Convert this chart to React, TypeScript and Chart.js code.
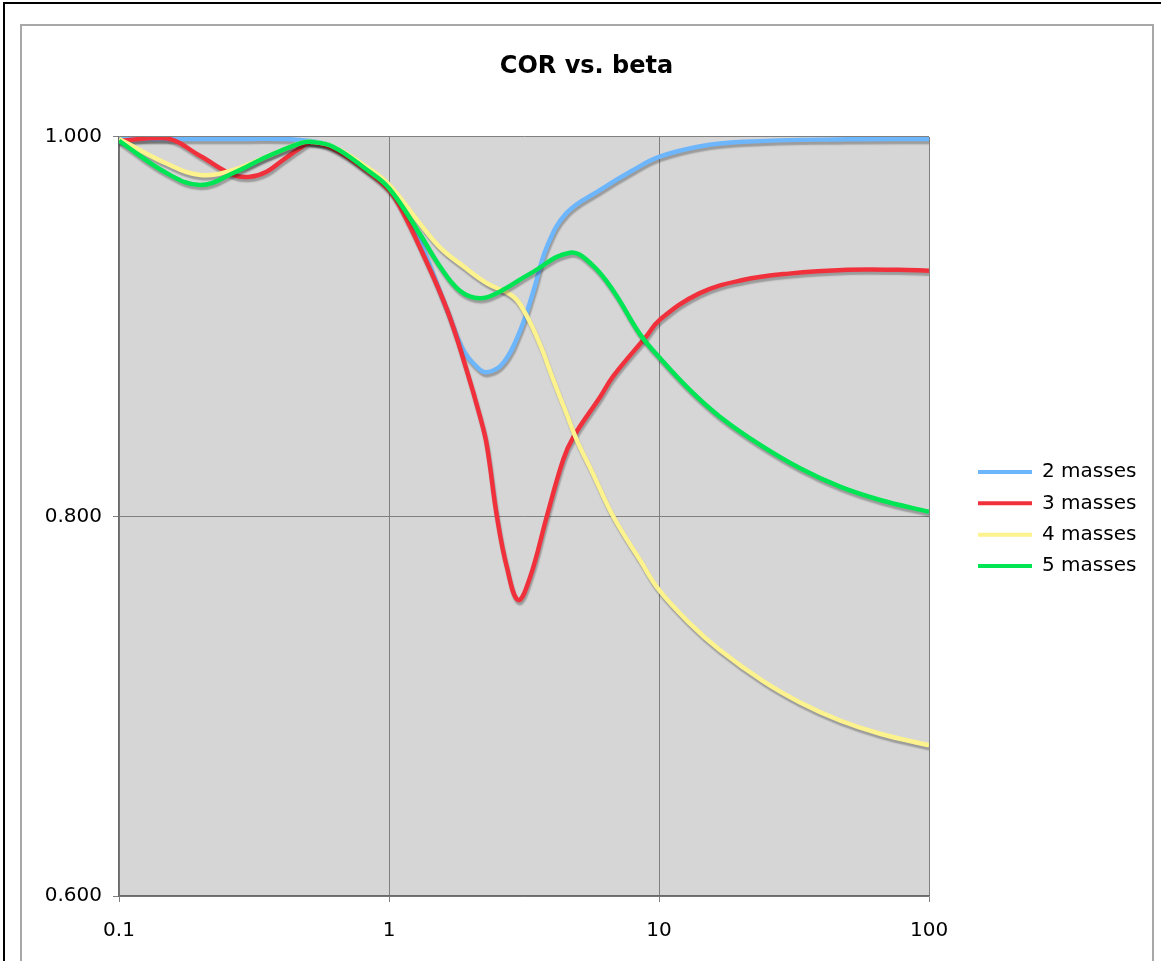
import React, { useEffect, useRef } from 'react';
import { Chart, registerables } from 'chart.js';

Chart.register(...registerables);

// ---------- data ----------
const seriesNames = ['2 masses', '3 masses', '4 masses', '5 masses'];
const seriesColors = ['#6db6fb', '#f0313c', '#fcf28e', '#00e553'];

const xTickValues = [0.1, 1, 10, 100];
const xTickLabels = ['0.1', '1', '10', '100'];
const yTickValues = [0.6, 0.8, 1.0];
const yTickLabels = ['0.600', '0.800', '1.000'];

const blueX = [0.1, 0.2, 0.3, 0.4, 0.5, 0.62, 0.83, 1.0, 1.23, 1.64, 1.88, 2.11, 2.3, 2.65, 3.06, 3.43, 3.84, 4.55, 6.04, 8.03, 10, 14.1, 20.4, 50, 100];
const blueY = [0.999, 0.999, 0.999, 0.999, 0.998, 0.995, 0.983, 0.974, 0.953, 0.909, 0.888, 0.879, 0.876, 0.881, 0.898, 0.919, 0.942, 0.96, 0.972, 0.9826, 0.9895, 0.995, 0.9975, 0.9988, 0.999];

const redX = [0.1, 0.15, 0.2, 0.265, 0.306, 0.352, 0.406, 0.467, 0.51, 0.62, 0.83, 1.0, 1.1, 1.3, 1.64, 1.94, 2.17, 2.3, 2.51, 2.73, 3.01, 3.33, 3.84, 4.42, 4.82, 6.05, 6.77, 8.98, 10.05, 14.1, 20.4, 30.2, 50.2, 77, 100];
const redY = [0.998, 0.9993, 0.99, 0.98, 0.979, 0.9817, 0.988, 0.994, 0.997, 0.994, 0.982, 0.972, 0.963, 0.942, 0.909, 0.877, 0.853, 0.838, 0.8, 0.7735, 0.756, 0.768, 0.8, 0.83, 0.842, 0.863, 0.874, 0.895, 0.9036, 0.9176, 0.9246, 0.928, 0.93, 0.93, 0.9295];

const yellowX = [0.1, 0.15, 0.2, 0.265, 0.352, 0.467, 0.51, 0.62, 0.83, 1.0, 1.3, 1.54, 1.88, 2.3, 2.88, 3.2, 3.63, 4.06, 4.55, 4.97, 5.7, 6.77, 8.51, 10, 13, 16.8, 24.3, 33.3, 46.8, 65.9, 100];
const yellowY = [0.999, 0.986, 0.98, 0.9826, 0.9896, 0.9967, 0.9975, 0.995, 0.984, 0.975, 0.9545, 0.942, 0.932, 0.923, 0.916, 0.907, 0.8904, 0.872, 0.854, 0.84, 0.8224, 0.8, 0.777, 0.7613, 0.7437, 0.7296, 0.7132, 0.702, 0.6925, 0.6855, 0.6794];

const greenX = [0.1, 0.15, 0.2, 0.265, 0.352, 0.467, 0.51, 0.62, 0.83, 1.0, 1.3, 1.54, 1.83, 2.17, 2.57, 3.33, 4.68, 5.62, 6.77, 8.46, 10, 13, 16.8, 23.7, 33.3, 46.8, 65.9, 100];
const greenY = [0.998, 0.981, 0.9747, 0.981, 0.9896, 0.9967, 0.9975, 0.9949, 0.9826, 0.973, 0.949, 0.932, 0.919, 0.915, 0.9185, 0.928, 0.939, 0.933, 0.919, 0.8965, 0.884, 0.8667, 0.8526, 0.8377, 0.8254, 0.8157, 0.8087, 0.8025];

const seriesX = [blueX, redX, yellowX, greenX];
const seriesY = [blueY, redY, yellowY, greenY];

const FONT = "'DejaVu Sans', Verdana, sans-serif";

const plotBgPlugin = {
  id: 'plotBg',
  beforeDraw(chart: any) {
    const { ctx, chartArea } = chart;
    if (!chartArea) return;
    ctx.save();
    ctx.fillStyle = '#d6d6d6';
    ctx.fillRect(chartArea.left, chartArea.top, chartArea.right - chartArea.left, chartArea.bottom - chartArea.top);
    ctx.restore();
  },
};

const shadowPlugin = {
  id: 'lineShadow',
  beforeDatasetDraw(chart: any) {
    const ctx = chart.ctx;
    ctx.save();
    ctx.shadowColor = 'rgba(0,0,0,0.28)';
    ctx.shadowOffsetX = 1;
    ctx.shadowOffsetY = 3;
    ctx.shadowBlur = 1.5;
  },
  afterDatasetDraw(chart: any) {
    chart.ctx.restore();
  },
};

export default function App() {
  const ref = useRef<HTMLCanvasElement>(null);

  useEffect(() => {
    if (!ref.current) return;
    Chart.defaults.font.family = FONT;
    Chart.defaults.color = '#000';

    const datasets = seriesNames.map((name, i) => ({
      label: name,
      data: seriesX[i].map((x, j) => ({ x, y: seriesY[i][j] })),
      borderColor: seriesColors[i],
      backgroundColor: seriesColors[i],
      borderWidth: 4.5,
      pointRadius: 0,
      pointHoverRadius: 0,
      showLine: true,
      tension: 0.4,
      order: seriesNames.length - 1 - i,
      xAxisID: 'x',
      yAxisID: 'y',
    }));

    const chart = new Chart(ref.current, {
      type: 'scatter',
      data: { datasets },
      plugins: [plotBgPlugin, shadowPlugin],
      options: {
        animation: false,
        responsive: false,
        maintainAspectRatio: false,
        layout: { padding: { left: 6.6, right: 6.6, top: 0, bottom: 0 } },
        plugins: {
          tooltip: { enabled: false },
          title: {
            display: true,
            text: 'COR vs. beta',
            color: '#000',
            font: { family: FONT, size: 24, weight: 'bold', lineHeight: 1.2 },
            padding: { top: 27.9, bottom: 56.3 },
          },
          legend: {
            display: true,
            position: 'right',
            fullSize: false,
            align: 'center',
            title: {
              display: true,
              text: ' ',
              font: { family: FONT, size: 4, lineHeight: 1 },
              padding: 0.5,
            },
            labels: {
              boxWidth: 54,
              boxHeight: 4,
              padding: 11.3,
              color: '#000',
              font: { family: FONT, size: 20 },
              sort: (a: any, b: any) => a.datasetIndex - b.datasetIndex,
              generateLabels: (c: any) =>
                Chart.defaults.plugins.legend.labels.generateLabels(c).map((l: any) => ({
                  ...l,
                  fillStyle: seriesColors[l.datasetIndex],
                  strokeStyle: seriesColors[l.datasetIndex],
                  lineWidth: 0,
                })),
            },
          },
        },
        scales: {
          x: {
            type: 'logarithmic',
            position: 'bottom',
            min: 0.1,
            max: 100,
            afterBuildTicks: (s: any) => {
              s.ticks = xTickValues.map((v) => ({ value: v }));
            },
            afterFit: (s: any) => {
              s.height = 65;
            },
            ticks: {
              autoSkip: false,
              maxRotation: 0,
              padding: 17,
              color: '#000',
              font: { family: FONT, size: 20 },
              callback: (_v: any, i: number) => xTickLabels[i],
            },
            grid: { color: '#808080', lineWidth: 1, tickLength: 6, drawTicks: true },
            border: { color: '#6a6a6a', width: 1.5 },
          },
          y: {
            type: 'linear',
            position: 'left',
            min: 0.6,
            max: 1.0,
            afterBuildTicks: (s: any) => {
              s.ticks = yTickValues.map((v) => ({ value: v }));
            },
            afterFit: (s: any) => {
              s.width = 92.4;
            },
            ticks: {
              autoSkip: false,
              padding: 11,
              color: '#000',
              font: { family: FONT, size: 20 },
              callback: (_v: any, i: number) => yTickLabels[i],
            },
            grid: { color: '#808080', lineWidth: 1, tickLength: 6, drawTicks: true },
            border: { color: '#6a6a6a', width: 1.5 },
          },
          y2: {
            type: 'linear',
            position: 'right',
            display: true,
            grid: { display: false },
            ticks: { display: false },
            border: { display: false },
            afterFit: (s: any) => {
              s.width = 37.7;
            },
          },
        },
      } as any,
    });

    return () => chart.destroy();
  }, []);

  return (
    <div style={{ position: 'absolute', left: 0, top: 0, width: 1161, height: 961, overflow: 'hidden', background: '#fff' }}>
      <div
        style={{
          position: 'absolute', left: 3, top: 2, width: 1200, height: 1000,
          borderTop: '2px solid #000', borderLeft: '2px solid #000',
        }}
      />
      <div
        style={{
          position: 'absolute', left: 20, top: 24, width: 1130, height: 1000,
          border: '2px solid #a8a8a8',
        }}
      />
      <canvas
        ref={ref}
        width={1133}
        height={937}
        style={{ position: 'absolute', left: 20, top: 24, width: 1133, height: 937 }}
      />
    </div>
  );
}
